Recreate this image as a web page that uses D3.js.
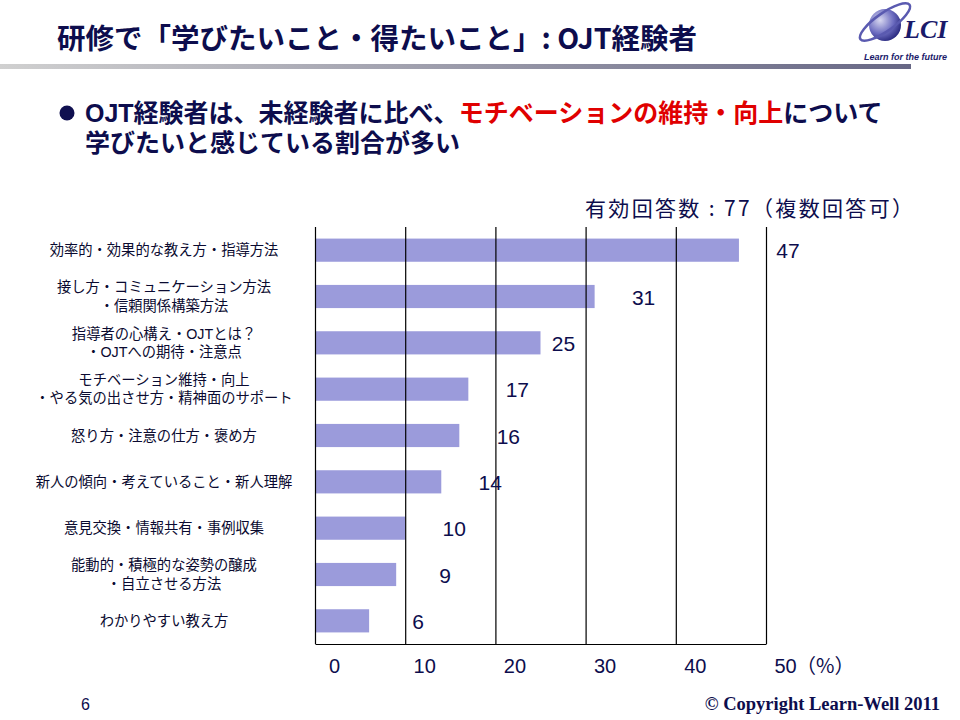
<!DOCTYPE html>
<html><head><meta charset="utf-8">
<script src="https://cdn.jsdelivr.net/npm/d3@7"></script>
<style>
html,body{margin:0;padding:0;background:#fff;}
svg{display:block;}
</style></head>
<body>
<svg id="c" width="960" height="720"></svg>
<script>
const categories = [
  "効率的・効果的な教え方・指導方法",
  "接し方・コミュニケーション方法\n・信頼関係構築方法",
  "指導者の心構え・OJTとは？\n・OJTへの期待・注意点",
  "モチベーション維持・向上\n・やる気の出させ方・精神面のサポート",
  "怒り方・注意の仕方・褒め方",
  "新人の傾向・考えていること・新人理解",
  "意見交換・情報共有・事例収集",
  "能動的・積極的な姿勢の醸成\n・自立させる方法",
  "わかりやすい教え方"
];
const values = [47, 31, 25, 17, 16, 14, 10, 9, 6];
const tickValues = [0, 10, 20, 30, 40, 50];
const titleText = "研修で「学びたいこと・得たいこと」: OJT経験者";
const noteText = "有効回答数 : 77（複数回答可）";

const svg = d3.select("#c");
const navy = "#0d0d4d";
const jp = "'Noto Sans CJK JP','Noto Sans',sans-serif";
const jpLat = "'Liberation Sans','Noto Sans CJK JP',sans-serif";

// Title
svg.append("text").attr("x", 57).attr("y", 49)
  .attr("font-family", jp).attr("font-weight", 700).attr("font-size", 28.5)
  .attr("fill", navy).text(titleText);

// gradient rule under title
const defs = svg.append("defs");
const lg = defs.append("linearGradient").attr("id", "rule");
lg.append("stop").attr("offset", "0%").attr("stop-color", "#d0d0d0");
lg.append("stop").attr("offset", "100%").attr("stop-color", "#676785");
svg.append("rect").attr("x", 0).attr("y", 64).attr("width", 911).attr("height", 5).attr("fill", "url(#rule)");

// Logo
const rg = defs.append("radialGradient").attr("id", "sph").attr("cx", "35%").attr("cy", "35%").attr("r", "70%");
rg.append("stop").attr("offset", "0%").attr("stop-color", "#d8d8f0");
rg.append("stop").attr("offset", "60%").attr("stop-color", "#6c6cc0");
rg.append("stop").attr("offset", "100%").attr("stop-color", "#2a2a80");
const logo = svg.append("g");
logo.append("circle").attr("cx", 885).attr("cy", 25).attr("r", 16).attr("fill", "url(#sph)");
logo.append("ellipse").attr("cx", 885).attr("cy", 22).attr("rx", 30).attr("ry", 9)
  .attr("transform", "rotate(-35 885 22)").attr("fill", "none").attr("stroke", "#5a5ab0").attr("stroke-width", 2.5);
logo.append("text").attr("x", 904).attr("y", 38).attr("font-family", "'Liberation Serif',serif")
  .attr("font-style", "italic").attr("font-weight", 700).attr("font-size", 26).attr("fill", "#1a1a6a").text("LCI");
logo.append("text").attr("x", 947).attr("y", 60).attr("text-anchor", "end").attr("font-family", "'Liberation Sans',Arial,sans-serif")
  .attr("font-style", "italic").attr("font-weight", 700).attr("font-size", 9).attr("fill", "#1a1a6a").text("Learn for the future");

// Bullet
svg.append("circle").attr("cx", 67).attr("cy", 113).attr("r", 7.5).attr("fill", "#101050");
const b1 = svg.append("text").attr("x", 85).attr("y", 122)
  .attr("font-family", jpLat).attr("font-weight", 700).attr("font-size", 25).attr("fill", navy);
b1.append("tspan").text("OJT経験者は、未経験者に比べ、");
b1.append("tspan").attr("fill", "#e00000").text("モチベーションの維持・向上");
b1.append("tspan").text("について");
svg.append("text").attr("x", 85).attr("y", 152)
  .attr("font-family", jpLat).attr("font-weight", 700).attr("font-size", 25).attr("fill", navy)
  .text("学びたいと感じている割合が多い");

// note
svg.append("text").attr("x", 585).attr("y", 216)
  .attr("font-family", jp).attr("font-size", 21).attr("fill", navy)
  .attr("textLength", 328).attr("lengthAdjust", "spacing").text(noteText);

// Chart
const plotTop = 227, plotBottom = 644, plotLeft = 315, plotRight = 766;
const x = d3.scaleLinear().domain([0, 50]).range([plotLeft, plotRight]);
const y = d3.scaleBand().domain(categories).range([plotTop, plotBottom]).paddingInner(0.5).paddingOuter(0.25);

// bars
svg.append("g").selectAll("rect").data(values).join("rect")
  .attr("x", x(0)).attr("y", (d, i) => y(categories[i]))
  .attr("width", d => x(d) - x(0)).attr("height", y.bandwidth())
  .attr("fill", "#9b9bdb");

// grid/axis
const ax = svg.append("g").attr("transform", `translate(0,${plotBottom})`)
  .call(d3.axisBottom(x).tickValues(tickValues).tickSize(-(plotBottom - plotTop)).tickSizeOuter(0));
ax.select(".domain").attr("stroke", "#000").attr("stroke-width", 1.2);
ax.selectAll(".tick line").attr("stroke", "#000").attr("stroke-width", 1.2);
ax.selectAll(".tick text").attr("font-family", "'Liberation Sans',Arial,sans-serif")
  .attr("font-size", 20).attr("fill", navy).attr("y", 29).attr("dy", 0).attr("dx", 19);
svg.append("text").attr("x", 796).attr("y", 673).attr("font-family", jp).attr("font-size", 20)
  .attr("fill", navy).text("（%）");

// value labels: placed right of the bar end; pulled in when they would sit on a gridline
function labelX(d) {
  const cx = x(d) + 49;
  const nearGrid = tickValues.some(t => Math.abs(x(t) - cx) < 5);
  return nearGrid ? x(d) + 23 : cx;
}
svg.append("g").selectAll("text").data(values).join("text")
  .attr("x", d => labelX(d)).attr("y", (d, i) => y(categories[i]) + y.bandwidth() / 2 + 8)
  .attr("text-anchor", "middle").attr("font-family", "'Liberation Sans',Arial,sans-serif")
  .attr("font-size", 21).attr("fill", navy).text(d => d);

// category labels
const cl = svg.append("g").selectAll("text").data(categories).join("text")
  .attr("text-anchor", "middle").attr("font-family", jpLat).attr("font-size", 14.3).attr("fill", "#0a0a30");
cl.each(function (d) {
  const lines = d.split("\n");
  const cy = y(d) + y.bandwidth() / 2;
  const t = d3.select(this);
  lines.forEach((ln, j) => {
    t.append("tspan").attr("x", 164)
      .attr("y", cy + 5 + (j - (lines.length - 1) / 2) * 18.5).text(ln);
  });
});

// footer
svg.append("text").attr("x", 81).attr("y", 710).attr("font-family", "'Liberation Sans',Arial,sans-serif")
  .attr("font-size", 16).attr("fill", navy).text("6");
svg.append("text").attr("x", 940).attr("y", 710).attr("text-anchor", "end").attr("font-family", "'Liberation Serif',serif")
  .attr("font-weight", 700).attr("font-size", 18.5).attr("fill", navy).text("© Copyright Learn-Well 2011");
</script>
</body></html>
